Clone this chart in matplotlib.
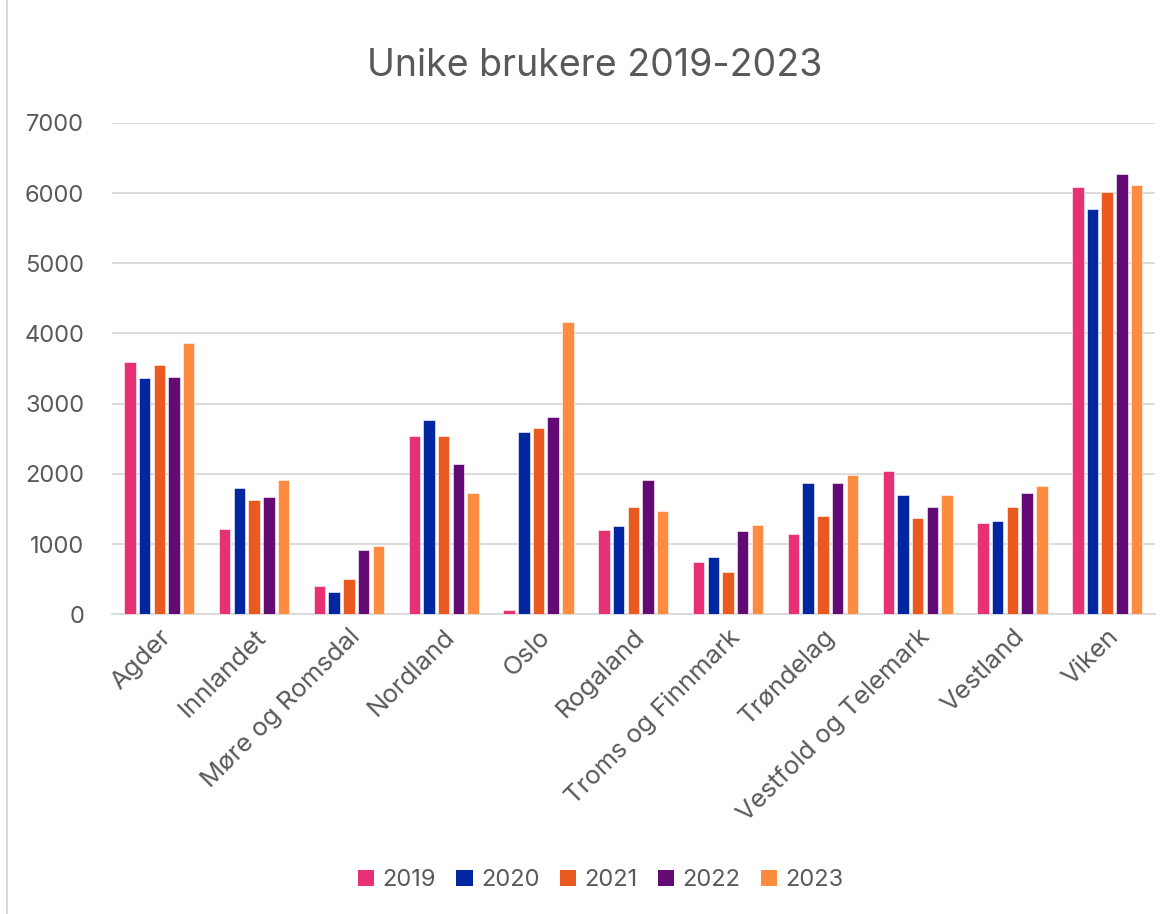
import numpy as np
import matplotlib
matplotlib.use('Agg')
import matplotlib.pyplot as plt
from matplotlib.patches import Patch
from matplotlib.lines import Line2D

# data
fylker = ['Agder', 'Innlandet', 'Møre og Romsdal', 'Nordland', 'Oslo', 'Rogaland',
          'Troms og Finnmark', 'Trøndelag', 'Vestfold og Telemark', 'Vestland', 'Viken']
years = ['2019', '2020', '2021', '2022', '2023']

v2019 = [3590, 1220, 400, 2545, 57, 1200, 740, 1140, 2040, 1305, 6090]
v2020 = [3360, 1795, 320, 2765, 2590, 1260, 815, 1865, 1695, 1335, 5770]
v2021 = [3550, 1630, 500, 2535, 2655, 1530, 595, 1395, 1375, 1525, 6015]
v2022 = [3375, 1670, 915, 2145, 2810, 1915, 1185, 1870, 1525, 1720, 6270]
v2023 = [3860, 1910, 975, 1730, 4170, 1465, 1275, 1980, 1705, 1825, 6115]

colors = ['#E83075', '#0026A0', '#EA5A20', '#640A74', '#FF8B41']
text_color = '#595959'

plt.rcParams['font.family'] = ['Inter', 'DejaVu Sans']

fig = plt.figure(figsize=(11.71, 9.14), dpi=100)
ax = fig.add_axes([0.0956, 0.328, 0.8904, 0.5375])

x = np.arange(len(fylker))
series = [v2019, v2020, v2021, v2022, v2023]
pitch = 0.155
width = 0.121
for i, vals in enumerate(series):
    ax.bar(x + (i - 2) * pitch, vals, width, color=colors[i], label=years[i],
           edgecolor='white', linewidth=0.4, zorder=3)

ax.set_xlim(-0.5, len(fylker) - 0.5)
ax.set_ylim(0, 7000)
ax.set_yticks(range(0, 7001, 1000))
ax.yaxis.grid(True, color='#D9D9D9', linewidth=1.3, zorder=0)
ax.set_axisbelow(True)

for s in ['top', 'right', 'left']:
    ax.spines[s].set_visible(False)
ax.spines['bottom'].set_color('#D9D9D9')
ax.spines['bottom'].set_linewidth(1.3)

ax.set_xticks(x)
ax.set_xticklabels(fylker, rotation=45, ha='right', rotation_mode='anchor')
ax.tick_params(axis='x', length=0, pad=8, labelsize=18.5, labelcolor=text_color)
ax.tick_params(axis='y', length=0, pad=20, labelsize=17, labelcolor=text_color)

fig.suptitle('Unike brukere 2019-2023', x=0.508, y=0.947, fontsize=27, color=text_color)

handles = [Patch(facecolor=c, edgecolor='none') for c in colors]
fig.legend(handles, years, loc='center', bbox_to_anchor=(0.513, 0.037), ncol=5,
           frameon=False, fontsize=17, labelcolor=text_color, handlelength=0.7,
           handleheight=0.7, handletextpad=0.35, columnspacing=0.85)

# thin frame line at the left edge, like the screenshot
fig.add_artist(Line2D([0.006, 0.006], [0, 1], transform=fig.transFigure,
                      color='#D9D9D9', linewidth=1.5))

fig.savefig('out.png', dpi=100)
